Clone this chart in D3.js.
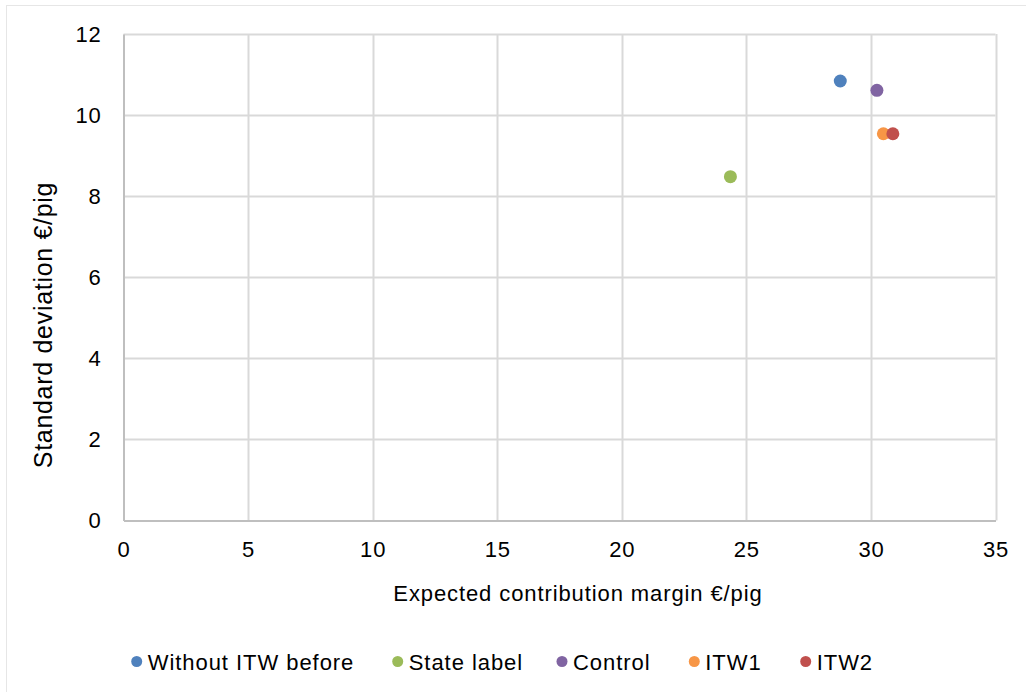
<!DOCTYPE html>
<html>
<head>
<meta charset="utf-8">
<script src="https://cdn.jsdelivr.net/npm/d3@7"></script>
<style>
  html, body { margin: 0; padding: 0; background: #fff; }
  svg { display: block; font-family: "Liberation Sans", Arial, sans-serif; }
</style>
</head>
<body>
<svg id="chart" width="1026" height="692"></svg>
<script>
// Scenario results: expected contribution margin vs. its standard deviation
const seriesNames = ["Without ITW before", "State label", "Control", "ITW1", "ITW2"];
const marginValues = [28.77, 24.36, 30.24, 30.50, 30.88];
const stdDevValues = [10.84, 8.48, 10.61, 9.54, 9.54];
const seriesColors = ["#4f81bd", "#9bbb59", "#8064a2", "#f79646", "#c0504d"];
const xTicks = [0, 5, 10, 15, 20, 25, 30, 35];
const yTicks = [0, 2, 4, 6, 8, 10, 12];

const svg = d3.select("#chart");

// outer chart frame
svg.append("rect")
  .attr("x", 6.5).attr("y", 5.5)
  .attr("width", 1030).attr("height", 700)
  .attr("fill", "#fff").attr("stroke", "#e6e6e6").attr("stroke-width", 1);

const plot = { left: 123.5, right: 995.5, top: 34, bottom: 520.5 };

const x = d3.scaleLinear().domain([0, 35]).range([plot.left, plot.right]);
const y = d3.scaleLinear().domain([0, 12]).range([plot.bottom, plot.top]);

// gridlines
const grid = svg.append("g");
grid.selectAll("line.v").data(xTicks.slice(1)).join("line")
  .attr("class", "v")
  .attr("x1", d => Math.round(x(d)) + 0.5).attr("x2", d => Math.round(x(d)) + 0.5)
  .attr("y1", plot.top).attr("y2", plot.bottom)
  .attr("stroke", "#d9d9d9").attr("stroke-width", 2);
grid.selectAll("line.h").data(yTicks.slice(1)).join("line")
  .attr("class", "h")
  .attr("x1", plot.left).attr("x2", plot.right)
  .attr("y1", d => Math.round(y(d)) + 0.5).attr("y2", d => Math.round(y(d)) + 0.5)
  .attr("stroke", "#d9d9d9").attr("stroke-width", 2);

// axes
const xAxis = svg.append("g")
  .attr("transform", `translate(0,${plot.bottom})`)
  .call(d3.axisBottom(x).tickValues(xTicks).tickSize(0).tickPadding(20.5));
const yAxis = svg.append("g")
  .attr("transform", `translate(${plot.left},0)`)
  .call(d3.axisLeft(y).tickValues(yTicks).tickSize(0).tickPadding(22));

[xAxis, yAxis].forEach(a => {
  a.select(".domain").attr("stroke", "#bfbfbf").attr("stroke-width", 2);
  a.selectAll("text").attr("font-size", 22).attr("fill", "#000")
    .attr("letter-spacing", "0.8px")
    .attr("font-family", "'Liberation Sans', Arial, sans-serif");
});

// axis titles
svg.append("text")
  .attr("x", 578).attr("y", 600.5)
  .attr("text-anchor", "middle").attr("font-size", 22).attr("fill", "#000")
  .attr("letter-spacing", "0.9px")
  .text("Expected contribution margin €/pig");
svg.append("text")
  .attr("transform", `translate(52,325) rotate(-90)`)
  .attr("text-anchor", "middle").attr("font-size", 25).attr("fill", "#000")
  .attr("letter-spacing", "0.7px")
  .text("Standard deviation €/pig");

// points
const data = seriesNames.map((name, i) => ({
  name, margin: marginValues[i], sd: stdDevValues[i], color: seriesColors[i]
}));
svg.append("g").selectAll("circle").data(data).join("circle")
  .attr("cx", d => x(d.margin)).attr("cy", d => y(d.sd))
  .attr("r", 6.5).attr("fill", d => d.color);

// legend row
const legendSlots = [136.7, 397.7, 562, 694.3, 805.7];
const legend = svg.append("g").attr("transform", "translate(0,661.5)")
  .selectAll("g").data(data).join("g")
  .attr("transform", (d, i) => `translate(${legendSlots[i]},0)`);
legend.append("circle").attr("r", 5.5).attr("fill", d => d.color);
legend.append("text")
  .attr("x", 11).attr("y", 8.5)
  .attr("font-size", 22).attr("fill", "#000")
  .attr("letter-spacing", "0.95px")
  .text(d => d.name);
</script>
</body>
</html>
